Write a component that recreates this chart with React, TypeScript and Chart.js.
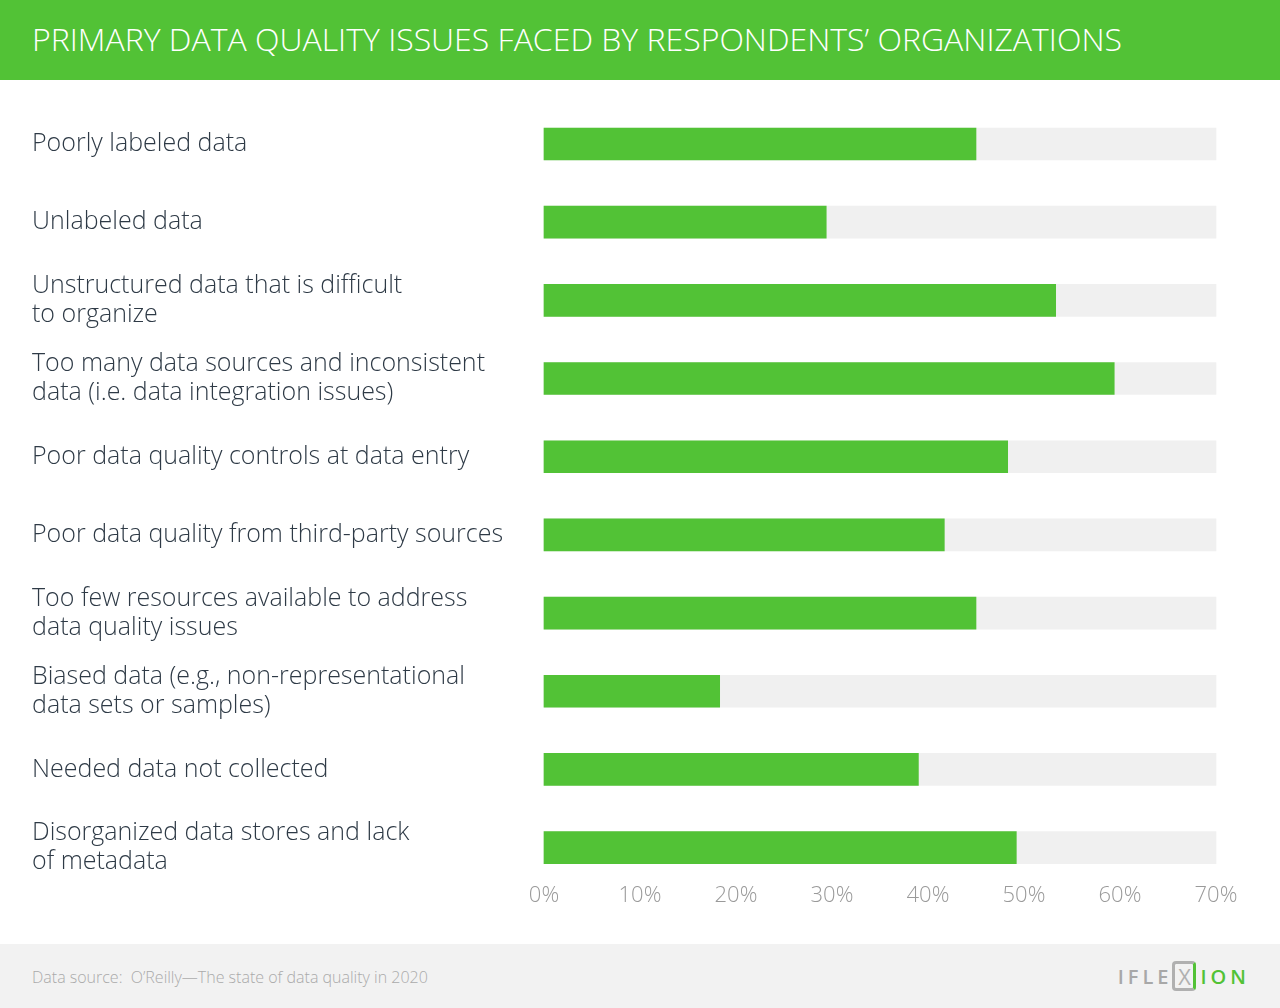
import React, { useEffect, useRef } from "react";
import { Chart, registerables } from "chart.js";

Chart.register(...registerables);

const TITLE = "PRIMARY DATA QUALITY ISSUES FACED BY RESPONDENTS\u2019 ORGANIZATIONS";
const SOURCE = "Data source:  O\u2019Reilly\u2014The state of data quality in 2020";

const categories: string[][] = [
  ["Poorly labeled data"],
  ["Unlabeled data"],
  ["Unstructured data that is difficult", "to organize"],
  ["Too many data sources and inconsistent", "data (i.e. data integration issues)"],
  ["Poor data quality controls at data entry"],
  ["Poor data quality from third-party sources"],
  ["Too few resources available to address", "data quality issues"],
  ["Biased data (e.g., non-representational", "data sets or samples)"],
  ["Needed data not collected"],
  ["Disorganized data stores and lack", "of metadata"],
];

const values: number[] = [45, 29.4, 53.3, 59.4, 48.3, 41.7, 45, 18.3, 39, 49.2];
const trackMax: number[] = [70, 70, 70, 70, 70, 70, 70, 70, 70, 70];
const xTicks: number[] = [0, 10, 20, 30, 40, 50, 60, 70];

const GREEN = "#52c236";
const TRACK = "#f0f0f0";
const FONT = "'Open Sans', 'Noto Sans', sans-serif";

export default function App() {
  const ref = useRef<HTMLCanvasElement | null>(null);

  useEffect(() => {
    document.body.style.margin = "0";
    const ctx = ref.current;
    if (!ctx) return;
    const chart = new Chart(ctx, {
      type: "bar",
      data: {
        labels: categories,
        datasets: [
          {
            data: values,
            backgroundColor: GREEN,
            barThickness: 32,
            grouped: false,
            clip: false as any,
          },
          {
            data: trackMax,
            backgroundColor: TRACK,
            barThickness: 32,
            grouped: false,
            clip: false as any,
          },
        ],
      },
      options: {
        indexAxis: "y",
        responsive: false,
        animation: false,
        layout: { padding: { left: 32, right: 64, top: 64, bottom: 0 } },
        plugins: {
          legend: { display: false },
          tooltip: { enabled: false },
          title: { display: false },
        },
        scales: {
          y: {
            type: "category",
            offset: false,
            grid: { display: false, drawTicks: false },
            border: { display: false },
            afterFit: (scale: any) => {
              scale.width = 512;
            },
            ticks: {
              crossAlign: "far",
              padding: 0,
              color: "#2e3a46",
              font: { family: FONT, size: 25, weight: 300 as any, lineHeight: 1.17 },
            },
          },
          x: {
            type: "linear",
            min: 0,
            max: 70,
            afterBuildTicks: (scale: any) => {
              scale.ticks = xTicks.map((v) => ({ value: v }));
            },
            grid: { display: false, drawTicks: false },
            border: { display: false },
            ticks: {
              padding: 35,
              color: "#9a9a9a",
              font: { family: FONT, size: 22, weight: 300 as any, lineHeight: 1.2 },
              callback: (v: any) => v + "%",
            },
          },
        },
      },
    });
    return () => chart.destroy();
  }, []);

  return (
    <div style={{ width: 1280, height: 1008, background: "#fff", position: "relative", overflow: "hidden" }}>
      <div
        style={{
          height: 80,
          background: GREEN,
          color: "#fff",
          fontFamily: FONT,
          fontWeight: 300,
          fontSize: 32,
          lineHeight: "78px",
          paddingLeft: 32,
          whiteSpace: "nowrap",
        }}
      >
        {TITLE}
      </div>
      <canvas ref={ref} width={1280} height={864} style={{ display: "block" }} />
      <div
        style={{
          position: "absolute",
          left: 0,
          top: 944,
          width: 1280,
          height: 64,
          background: "#f2f2f2",
        }}
      >
        <div
          style={{
            position: "absolute",
            left: 32,
            top: 0,
            lineHeight: "66px",
            fontFamily: FONT,
            fontWeight: 300,
            fontSize: 16,
            color: "#aaaaaa",
            whiteSpace: "pre",
          }}
        >
          {SOURCE}
        </div>
        <div
          style={{
            position: "absolute",
            right: 30,
            top: 17,
            height: 30,
            display: "flex",
            alignItems: "center",
            fontFamily: FONT,
            fontWeight: 600,
            fontSize: 20,
            letterSpacing: 4,
          }}
        >
          <span style={{ color: "#a8a8a8" }}>IFLE</span>
          <span
            style={{
              display: "inline-block",
              width: 24,
              height: 30,
              border: "3px solid #b0b0b0",
              borderRightColor: GREEN,
              borderRadius: 4,
              color: "#b0b0b0",
              textAlign: "center",
              lineHeight: "24px",
              letterSpacing: 0,
              fontWeight: 400,
              fontSize: 22,
              marginRight: 4,
              boxSizing: "border-box",
            }}
          >
            X
          </span>
          <span style={{ color: GREEN }}>ION</span>
        </div>
      </div>
    </div>
  );
}
